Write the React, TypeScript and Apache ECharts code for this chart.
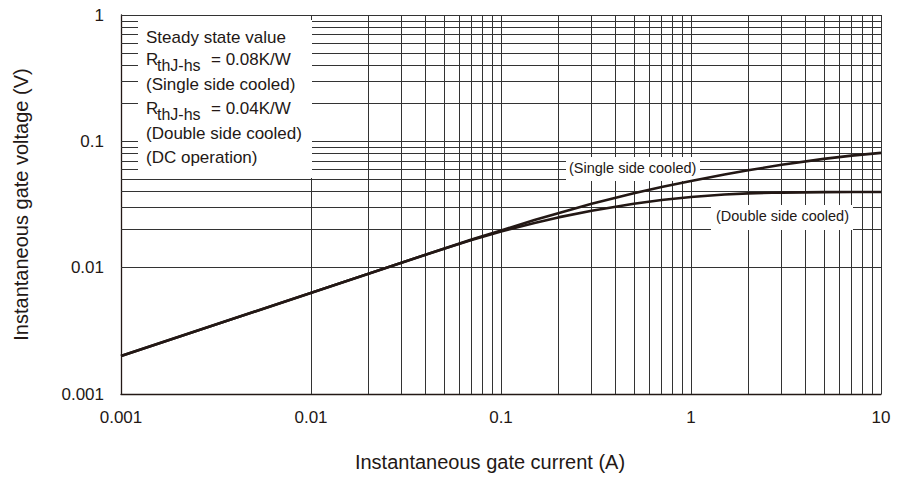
import React, { useEffect, useRef } from "react";
import * as echarts from "echarts";

// ---- data ----
const singleX = [0.001, 0.05, 0.07, 0.1, 0.15, 0.2, 0.3, 0.5, 0.7, 1, 1.5, 2, 3, 5, 7, 10];
const singleY = [0.002, 0.01414, 0.0167, 0.0197, 0.0238, 0.027, 0.032, 0.0388, 0.0435, 0.0486, 0.0547, 0.059, 0.0652, 0.0726, 0.0771, 0.081];
const doubleX = [0.001, 0.05, 0.07, 0.1, 0.15, 0.2, 0.3, 0.5, 0.7, 1, 1.5, 2, 3, 5, 7, 10];
const doubleY = [0.002, 0.01414, 0.01656, 0.0193, 0.0226, 0.025, 0.0282, 0.0321, 0.0343, 0.0363, 0.0379, 0.0387, 0.0393, 0.0396, 0.0397, 0.0397];

const xTickLabels = ["0.001", "0.01", "0.1", "1", "10"];
const yTickLabels = ["0.001", "0.01", "0.1", "1"];
const xDecades = [0.001, 0.01, 0.1, 1];
const yDecades = [0.001, 0.01, 0.1];
const gridMultipliers = [1, 2, 3, 4, 5, 6, 7, 8, 9];

const noteLines = ["Steady state value", "(Single side cooled)", "(Double side cooled)", "(DC operation)"];
const rLines = ["= 0.08K/W", "= 0.04K/W"];

const FONT = "'Liberation Sans', Arial, Helvetica, sans-serif";
const INK = "#231815";
const GRID = "#333333";

export default function App() {
  const ref = useRef<HTMLDivElement>(null);

  useEffect(() => {
    if (!ref.current) return;
    const chart = echarts.init(ref.current, undefined, { renderer: "svg" });

    const vLines: any[] = [];
    xDecades.forEach((d) => gridMultipliers.forEach((m) => vLines.push({ xAxis: d * m })));
    vLines.push({ xAxis: 10 });
    const hLines: any[] = [];
    yDecades.forEach((d) => gridMultipliers.forEach((m) => hLines.push({ yAxis: d * m })));
    hLines.push({ yAxis: 1 });

    const lbl = (arr: string[], base: number) => (v: number) => {
      const i = Math.round(Math.log10(v)) - base;
      return arr[i] ?? "";
    };

    const textStyle = (text: string, size: number) => ({
      text,
      fill: INK,
      font: `${size}px ${FONT}`,
      fontSize: size,
      fontFamily: FONT,
      textVerticalAlign: "middle",
      verticalAlign: "middle",
    });

    const graphics: any[] = [
      { type: "rect", z: 30, shape: { x: 138, y: 20, width: 174, height: 158 }, style: { fill: "#ffffff" } },
      { type: "text", z: 31, x: 146, y: 37, style: textStyle(noteLines[0], 17) },
      { type: "text", z: 31, x: 146, y: 59, style: textStyle("R", 17) },
      { type: "text", z: 31, x: 157, y: 65, style: textStyle("thJ-hs", 16) },
      { type: "text", z: 31, x: 211, y: 59, style: textStyle(rLines[0], 17) },
      { type: "text", z: 31, x: 146, y: 84, style: textStyle(noteLines[1], 17) },
      { type: "text", z: 31, x: 146, y: 108, style: textStyle("R", 17) },
      { type: "text", z: 31, x: 157, y: 114, style: textStyle("thJ-hs", 16) },
      { type: "text", z: 31, x: 211, y: 108, style: textStyle(rLines[1], 17) },
      { type: "text", z: 31, x: 146, y: 133, style: textStyle(noteLines[2], 17) },
      { type: "text", z: 31, x: 146, y: 157, style: textStyle(noteLines[3], 17) },
      { type: "rect", z: 30, shape: { x: 566, y: 157, width: 134, height: 24 }, style: { fill: "#ffffff" } },
      { type: "text", z: 31, x: 569, y: 168, style: textStyle("(Single side cooled)", 14.5) },
      { type: "rect", z: 30, shape: { x: 711, y: 205, width: 142, height: 25 }, style: { fill: "#ffffff" } },
      { type: "text", z: 31, x: 716, y: 216, style: textStyle("(Double side cooled)", 14.5) },
    ];

    chart.setOption({
      animation: false,
      backgroundColor: "#ffffff",
      textStyle: { fontFamily: FONT, color: INK },
      grid: { left: 121, right: 17, top: 15, bottom: 86 },
      xAxis: {
        type: "log",
        logBase: 10,
        min: 0.001,
        max: 10,
        name: "Instantaneous gate current (A)",
        nameLocation: "middle",
        nameGap: 58,
        nameTextStyle: { fontSize: 20, color: INK, fontFamily: FONT, padding: [0, 22, 0, 0] },
        axisLine: { show: true, lineStyle: { color: INK, width: 1.3 } },
        axisTick: { show: false },
        splitLine: { show: false },
        axisLabel: {
          fontSize: 17,
          color: INK,
          fontFamily: FONT,
          margin: 15,
          showMinLabel: true,
          showMaxLabel: true,
          formatter: lbl(xTickLabels, -3),
        },
      },
      yAxis: {
        type: "log",
        logBase: 10,
        min: 0.001,
        max: 1,
        name: "Instantaneous gate voltage (V)",
        nameLocation: "middle",
        nameGap: 90,
        nameTextStyle: { fontSize: 20, color: INK, fontFamily: FONT },
        axisLine: { show: true, lineStyle: { color: INK, width: 1.3 } },
        axisTick: { show: false },
        splitLine: { show: false },
        axisLabel: {
          fontSize: 17,
          color: INK,
          fontFamily: FONT,
          margin: 17,
          padding: [6, 0, 0, 0],
          showMinLabel: true,
          showMaxLabel: true,
          formatter: lbl(yTickLabels, -3),
        },
      },
      graphic: { elements: graphics },
      series: [
        {
          type: "line",
          z: 1,
          data: [[0.001, 0.001]],
          symbol: "none",
          lineStyle: { width: 0 },
          silent: true,
          markLine: {
            z: 1,
            silent: true,
            symbol: ["none", "none"],
            label: { show: false },
            lineStyle: { color: GRID, width: 1, type: "solid" },
            data: [...vLines, ...hLines],
          },
        },
        {
          type: "line",
          z: 50,
          name: "Single side cooled",
          data: singleX.map((x, i) => [x, singleY[i]]),
          symbol: "none",
          lineStyle: { color: INK, width: 2.6 },
        },
        {
          type: "line",
          z: 50,
          name: "Double side cooled",
          data: doubleX.map((x, i) => [x, doubleY[i]]),
          symbol: "none",
          lineStyle: { color: INK, width: 2.6 },
        },
      ],
    });

    return () => chart.dispose();
  }, []);

  return (
    <div
      ref={ref}
      style={{ position: "absolute", left: 0, top: 0, width: 898, height: 480, background: "#fff" }}
    />
  );
}
